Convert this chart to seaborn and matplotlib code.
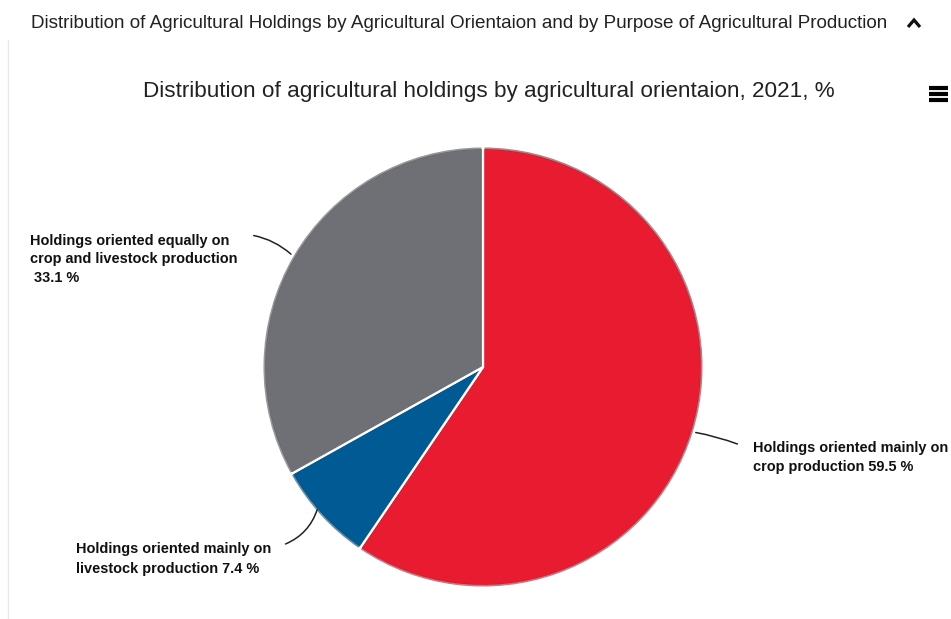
import matplotlib
matplotlib.use("Agg")
import matplotlib.pyplot as plt
from matplotlib.patches import Arc
from matplotlib.colors import to_rgb
import seaborn as sns

# Data
categories = [
    "Holdings oriented mainly on\ncrop production",
    "Holdings oriented mainly on\nlivestock production",
    "Holdings oriented equally on\ncrop and livestock production\n",
]
shares = [59.5, 7.4, 33.1]
colors = ["#E81B30", "#005B94", "#6E7075"]

header = ("Distribution of Agricultural Holdings by Agricultural Orientaion "
          "and by Purpose of Agricultural Production")
title = "Distribution of agricultural holdings by agricultural orientaion, 2021, %"

sns.set_theme(style="white")
plt.rcParams["font.family"] = ["Liberation Sans", "DejaVu Sans"]

W, H = 951, 619
fig = plt.figure(figsize=(W / 100, H / 100), dpi=100)
ax = fig.add_axes([0, 0, 1, 1])


def Y(y):
    return H - y


cx, cy, r = 483, 367, 219
wedges, _ = ax.pie(
    shares, colors=colors, startangle=90, counterclock=False,
    center=(cx, Y(cy)), radius=r, frame=True,
    wedgeprops=dict(edgecolor="white", linewidth=1.6),
)
ax.set_xlim(0, W)
ax.set_ylim(0, H)
ax.axis("off")

# darker rim along each slice's outer edge
for w, c in zip(wedges, colors):
    dark = tuple(v * 0.6 for v in to_rgb(c))
    ax.add_patch(Arc((cx, Y(cy)), 2 * r - 1, 2 * r - 1, theta1=w.theta1 + 0.4,
                     theta2=w.theta2 - 0.4, color=dark, lw=1.5, alpha=0.55))

# Header and title
ax.text(459, Y(23), header, ha="center", va="center", fontsize=13.55, color="#222222")
ax.plot([908, 914, 920], [Y(27), Y(20), Y(27)], color="#111111", lw=2.3,
        solid_joinstyle="miter", solid_capstyle="butt")
ax.text(489, Y(91), title, ha="center", va="center", fontsize=16.2, color="#222222")

# Menu icon
for dy in (-6, 0, 6):
    ax.plot([929, 948], [Y(94 + dy)] * 2, color="black", lw=3.0, solid_capstyle="butt")

# Left border line
ax.plot([8, 8], [0, Y(40)], color="#e8e8e8", lw=1)

lab_kw = dict(fontsize=10.45, fontweight="bold", color="#111111", linespacing=1.5)

# Labels with their values
ax.text(753, Y(441), f"{categories[0]} {shares[0]} %", ha="left", va="top", **lab_kw)
ax.text(76, Y(542), f"{categories[1]} {shares[1]} %", ha="left", va="top", **lab_kw)
ax.text(30, Y(234), f"{categories[2]} {shares[2]} %", ha="left", va="top",
        **{**lab_kw, "linespacing": 1.4})

# Connector lines
conn = dict(arrowstyle="-", color="#222222", lw=1.1)
ax.annotate("", xy=(693, Y(432)), xytext=(740, Y(445)),
            arrowprops=dict(connectionstyle="arc3,rad=0.05", **conn))
ax.annotate("", xy=(318, Y(507)), xytext=(283, Y(545)),
            arrowprops=dict(connectionstyle="arc3,rad=0.25", **conn))
ax.annotate("", xy=(293, Y(256)), xytext=(251, Y(235)),
            arrowprops=dict(connectionstyle="arc3,rad=-0.15", **conn))

fig.savefig("out.png", dpi=100)
